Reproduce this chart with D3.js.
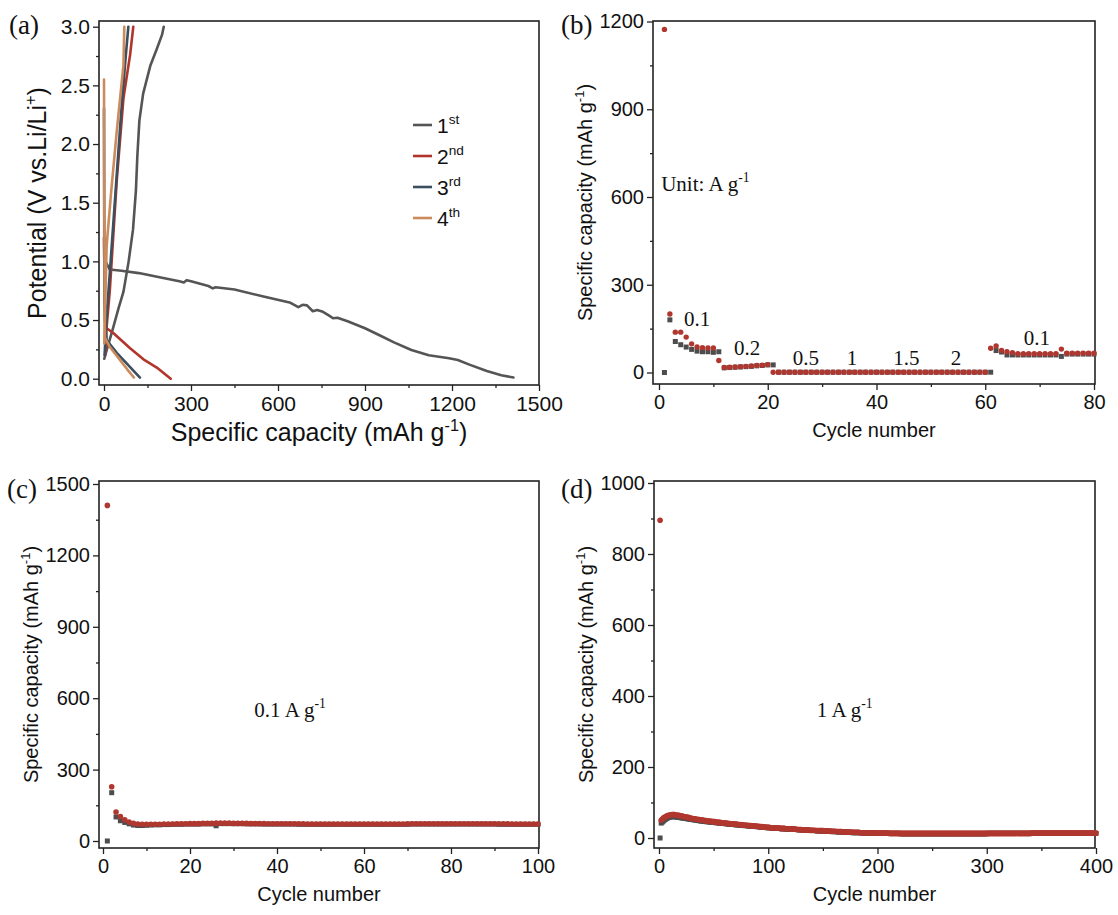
<!DOCTYPE html>
<html>
<head>
<meta charset="utf-8">
<script src="https://cdn.jsdelivr.net/npm/d3@7"></script>
<style>
  body { margin: 0; background: #fff; }
</style>
</head>
<body>
<script>
// ---- panel (a): galvanostatic curves, [capacity (mAh/g), potential (V)]
const cycle1Discharge = [[5,1.0],[20,0.93],[60,0.92],[120,0.9],[200,0.86],[260,0.83],[275,0.82],[285,0.84],[300,0.83],[360,0.79],[375,0.77],[385,0.78],[450,0.76],[550,0.7],[640,0.65],[670,0.61],[685,0.63],[700,0.625],[720,0.575],[735,0.585],[755,0.57],[775,0.54],[790,0.515],[805,0.52],[840,0.49],[900,0.43],[950,0.37],[1000,0.31],[1060,0.245],[1120,0.2],[1190,0.175],[1220,0.16],[1260,0.12],[1320,0.065],[1370,0.03],[1412,0.01]];
const cycle1Charge = [[1,0.17],[10,0.25],[30,0.42],[50,0.6],[67,0.74],[85,1.0],[100,1.27],[110,1.6],[115,1.9],[122,2.2],[135,2.43],[160,2.67],[182,2.81],[200,2.93],[206,3.0]];
const cycle2Discharge = [[0,1.2],[3,0.6],[9,0.43],[32,0.39],[90,0.26],[136,0.165],[182,0.095],[230,0.0]];
const cycle2Charge = [[4,0.2],[9,0.44],[20,0.75],[44,1.69],[67,2.39],[90,2.76],[101,3.0]];
const cycle3Discharge = [[0,2.3],[1,1.0],[3,0.5],[9,0.33],[44,0.22],[78,0.13],[124,0.01]];
const cycle3Charge = [[2,0.2],[8,0.5],[20,0.9],[40,1.6],[60,2.3],[75,2.75],[84,3.0]];
const cycle4Discharge = [[0,2.55],[1,1.5],[2,0.8],[3,0.35],[20,0.27],[55,0.16],[80,0.08],[103,0.01]];
const cycle4Charge = [[1,0.3],[9,1.13],[25,1.6],[44,2.11],[60,2.5],[67,2.67],[70,3.0]];
const legendNumbers = ["1", "2", "3", "4"];
const legendSuffixes = ["st", "nd", "rd", "th"];

// ---- panel (b): rate capability, cycles 1..80
const rateCycles = d3.range(1, 81);
const rateCharge = [0,180,106,95,87,79,73,71,71,69, 71,16,17,18,19,20,21,23,24,26,
  26,1,1,1,1,1,1,1,1,1, 1,1,1,1,1,1,1,1,1,1, 1,1,1,1,1,1,1,1,1,1, 1,1,1,1,1,1,1,1,1,1,
  1,75,70,60,60,60,60,60,60,60, 60,60,60,55,63,63,63,63,63,63];
const rateDischarge = [1173,200,138,138,121,98,87,85,84,84, 41,17,18,19,20,21,22,24,25,27,
  1,1,1,1,1,1,1,1,1,1, 1,1,1,1,1,1,1,1,1,1, 1,1,1,1,1,1,1,1,1,1, 1,1,1,1,1,1,1,1,1,1,
  83,91,75,71,68,64,64,64,64,64, 64,64,64,80,66,66,66,66,66,66];
const rateLabels = ["0.1", "0.2", "0.5", "1", "1.5", "2", "0.1"];
const rateLabelCycles = [7, 16.2, 27, 35.5, 45.5, 54.6, 69.5];
const rateLabelValues = [160, 60, 25, 25, 25, 25, 95];

// ---- panel (c): cycling at 0.1 A/g, cycles 1..100
const cycC = d3.range(1, 101);
const chargeC = [0,203,101,85,78,72,67,65,65,66, 67,68,68,69,69,70,70,70,71,71,
  71,71,72,72,72,64,73,73,73,73, 73,73,72,72,72,72,71,71,71,71, 71,71,71,71,70,70,70,70,70,70,
  70,70,70,70,70,70,70,70,70,70, 70,70,70,70,70,70,70,70,70,70, 71,71,71,71,71,71,71,71,71,71,
  71,71,71,71,71,71,71,71,71,71, 70,70,70,70,70,70,70,70,70,70];
const dischargeC = [1410,228,122,103,89,80,74,71,70,70, 70,70,70,71,71,71,72,72,72,73,
  73,73,74,74,74,75,75,75,75,74, 74,74,74,73,73,73,73,72,72,72, 72,72,72,72,72,72,71,71,71,71,
  71,71,71,71,71,71,71,71,71,71, 71,71,71,71,71,71,71,71,71,72, 72,72,72,72,72,72,72,72,72,72,
  72,72,72,72,72,72,72,72,72,72, 72,72,72,71,71,71,71,71,71,71];

// ---- panel (d): cycling at 1 A/g, cycles 1..400
const cycD = d3.range(1, 401);
const chargeD = [0,42,45,48,51,53,55,57,58,59,60,60,60,60,60,59,59,58,58,57,
  57,56,56,55,55,54,54,53,53,52,52,51,51,50,50,49,49,48,48,48,
  47,47,46,46,46,45,45,45,44,44,44,43,43,43,42,42,42,41,41,41,
  40,40,40,39,39,39,38,38,38,37,37,37,37,36,36,36,35,35,35,35,
  34,34,34,34,33,33,33,33,32,32,32,31,31,31,31,30,30,30,29,29,
  29,29,28,28,28,28,27,27,27,27,27,26,26,26,26,26,25,25,25,25,
  25,25,24,24,24,24,24,23,23,23,23,23,22,22,22,22,22,21,21,21,
  21,21,21,21,20,20,20,20,20,20,20,19,19,19,19,19,19,18,18,18,
  18,18,18,17,17,17,17,17,17,16,16,16,16,16,16,16,15,15,15,15,
  15,15,15,15,15,15,14,14,14,14,14,14,14,14,14,14,14,13,13,13,
  13,13,13,13,13,13,13,13,13,13,13,13,13,13,13,13,13,13,13,13,
  12,12,12,12,12,12,12,12,12,12,12,12,12,12,12,12,12,12,12,12,
  12,12,12,12,12,12,12,12,12,12,12,12,12,12,12,12,12,12,12,12,
  12,12,12,12,12,12,12,12,12,12,12,12,12,12,12,12,12,12,12,12,
  12,12,12,12,12,12,12,12,12,12,12,12,12,12,12,12,12,12,12,12,
  13,13,13,13,13,13,13,13,13,13,13,13,13,13,13,13,13,13,13,13,
  13,13,13,13,13,13,13,13,13,13,13,13,13,13,13,13,13,13,13,13,
  13,13,13,13,13,13,13,13,13,13,13,13,13,13,13,13,13,13,13,13,
  13,13,13,13,13,13,13,13,13,13,13,13,13,13,13,13,13,13,13,13,
  13,13,13,13,13,13,13,13,13,13,13,13,13,13,13,13,13,13,13,13];
const dischargeD = [895,50,53,56,58,60,62,63,64,65,65,66,66,66,65,65,64,64,63,62,
  62,61,60,60,59,58,58,57,56,55,55,54,54,53,53,52,52,51,51,50,
  50,49,49,48,48,48,47,47,46,46,46,45,45,44,44,44,43,43,42,42,
  42,42,41,41,41,40,40,40,39,39,39,38,38,38,37,37,37,36,36,36,
  36,35,35,35,34,34,34,34,33,33,33,32,32,32,31,31,31,30,30,30,
  30,29,29,29,29,28,28,28,28,28,27,27,27,27,27,26,26,26,26,26,
  25,25,25,25,25,24,24,24,24,24,23,23,23,23,23,23,22,22,22,22,
  22,22,21,21,21,21,21,21,21,21,20,20,20,20,20,19,19,19,19,19,
  19,18,18,18,18,18,18,17,17,17,17,17,17,17,16,16,16,16,16,16,
  16,16,16,15,15,15,15,15,15,15,15,15,15,15,15,14,14,14,14,14,
  14,14,14,14,14,14,14,14,14,14,13,13,13,13,13,13,13,13,13,13,
  13,13,13,13,13,13,13,13,13,13,13,13,13,13,13,13,13,13,13,13,
  13,13,13,13,13,13,13,13,13,13,13,13,13,13,13,13,13,13,13,13,
  13,13,13,13,13,13,13,13,13,13,13,13,13,13,13,13,13,13,13,13,
  13,13,13,13,13,13,13,13,13,13,13,13,13,13,13,13,13,13,13,13,
  13,13,13,13,13,13,13,13,13,13,13,13,13,13,13,13,13,13,13,13,
  13,13,13,13,13,13,13,13,13,13,13,13,13,13,13,13,13,13,13,13,
  14,14,14,14,14,14,14,14,14,14,14,14,14,14,14,14,14,14,14,14,
  14,14,14,14,14,14,14,14,14,14,14,14,14,14,14,14,14,14,14,14,
  14,14,14,14,14,14,14,14,14,14,14,14,14,14,14,14,14,14,14,14];

// ---- styles
const SANS = "'Liberation Sans', Arial, sans-serif";
const SERIF = "'Liberation Serif', 'Times New Roman', serif";
const curveColors = ["#555555", "#b2352c", "#3b4f5f", "#cc8b5c"];
const grayMark = "#4d4d4d";
const redMark = "#b0372f";

const svg = d3.select("body").append("svg")
  .attr("width", 1118)
  .attr("height", 915)
  .style("background", "#fff");

// add text with optional superscript segments: parts = [[text, isSup], ...]
function richText(sel, parts, size) {
  let raised = false;
  parts.forEach(([t, sup]) => {
    const ts = sel.append("tspan").text(t);
    if (sup && !raised) { ts.attr("font-size", size * 0.65).attr("dy", -size * 0.42); raised = true; }
    else if (sup) { ts.attr("font-size", size * 0.65); }
    else if (raised) { ts.attr("font-size", size).attr("dy", size * 0.42); raised = false; }
  });
  return sel;
}

function drawAxes(box, x, y, xMajor, xMinor, yMajor, yMinor, yFmt, fs) {
  const g = svg.append("g");
  const bottomMinor = g.append("g").attr("transform", `translate(0,${box.b})`)
    .call(d3.axisBottom(x).tickValues(xMinor).tickSize(3).tickFormat(""));
  const bottom = g.append("g").attr("transform", `translate(0,${box.b})`)
    .call(d3.axisBottom(x).tickValues(xMajor).tickSize(6).tickPadding(5).tickFormat(d3.format("d")));
  const leftMinor = g.append("g").attr("transform", `translate(${box.l},0)`)
    .call(d3.axisLeft(y).tickValues(yMinor).tickSize(3).tickFormat(""));
  const left = g.append("g").attr("transform", `translate(${box.l},0)`)
    .call(d3.axisLeft(y).tickValues(yMajor).tickSize(6).tickPadding(3).tickFormat(yFmt));
  [bottomMinor, bottom, leftMinor, left].forEach(a => {
    a.select(".domain").remove();
    a.selectAll("line").attr("stroke", "#222").attr("stroke-width", 1.3);
    a.selectAll("text").attr("font-family", SANS).attr("font-size", fs).attr("fill", "#111");
  });
  g.append("rect")
    .attr("x", box.l).attr("y", box.t)
    .attr("width", box.r - box.l).attr("height", box.b - box.t)
    .attr("fill", "none").attr("stroke", "#222").attr("stroke-width", 1.6);
}

function xTitle(box, label, fs, off) {
  const t = svg.append("text")
    .attr("x", (box.l + box.r) / 2).attr("y", box.b + off)
    .attr("text-anchor", "middle")
    .attr("font-family", SANS).attr("font-size", fs).attr("fill", "#111");
  richText(t, label, fs);
}

function yTitle(box, xb, label, fs) {
  const t = svg.append("text")
    .attr("transform", `translate(${xb},${(box.t + box.b) / 2}) rotate(-90)`)
    .attr("text-anchor", "middle")
    .attr("font-family", SANS).attr("font-size", fs).attr("fill", "#111");
  richText(t, label, fs);
}

function panelLetter(x, y, s) {
  svg.append("text").attr("x", x).attr("y", y)
    .attr("font-family", SERIF).attr("font-size", 27).attr("fill", "#111").text(s);
}

function serifNote(x, y, parts, anchor) {
  const t = svg.append("text").attr("x", x).attr("y", y)
    .attr("text-anchor", anchor || "middle")
    .attr("font-family", SERIF).attr("font-size", 21).attr("fill", "#111");
  richText(t, parts, 21);
}

function drawScatter(x, y, cycles, charge, discharge, sq, r) {
  const g = svg.append("g");
  g.selectAll("rect.c").data(cycles).enter().append("rect")
    .attr("class", "c")
    .attr("x", d => x(d) - sq / 2)
    .attr("y", (d, i) => y(charge[i]) - sq / 2)
    .attr("width", sq).attr("height", sq)
    .attr("fill", grayMark);
  g.selectAll("circle.d").data(cycles).enter().append("circle")
    .attr("class", "d")
    .attr("cx", d => x(d))
    .attr("cy", (d, i) => y(discharge[i]))
    .attr("r", r)
    .attr("fill", redMark);
}

const capTitle = [["Specific capacity (mAh g", false], ["-1", true], [")", false]];

// ================= (a)
const boxA = { l: 99, r: 539, t: 21, b: 385 };
const xA = d3.scaleLinear().domain([0, 1500]).range([104, 539]);
const yA = d3.scaleLinear().domain([0, 3]).range([378.7, 26.7]);
drawAxes(boxA, xA, yA, d3.range(0, 1501, 300), d3.range(150, 1500, 300),
  d3.range(0, 3.01, 0.5), d3.range(0.25, 3, 0.5), d3.format(".1f"), 21);
const lineA = d3.line().x(d => xA(d[0])).y(d => yA(d[1]));
const curves = [
  [cycle1Discharge, cycle1Charge],
  [cycle2Discharge, cycle2Charge],
  [cycle3Discharge, cycle3Charge],
  [cycle4Discharge, cycle4Charge]
];
curves.forEach((pair, i) => {
  pair.forEach(c => {
    svg.append("path").datum(c)
      .attr("d", lineA)
      .attr("fill", "none")
      .attr("stroke", curveColors[i])
      .attr("stroke-width", 2.6)
      .attr("stroke-linejoin", "round")
      .attr("stroke-linecap", "round");
  });
});
// legend
const legY = d3.scalePoint().domain(legendNumbers).range([125, 218]);
legendNumbers.forEach((n, i) => {
  svg.append("line")
    .attr("x1", 413).attr("x2", 432)
    .attr("y1", legY(n)).attr("y2", legY(n))
    .attr("stroke", curveColors[i]).attr("stroke-width", 2.6);
  const t = svg.append("text").attr("x", 437).attr("y", legY(n) + 8)
    .attr("font-family", SANS).attr("font-size", 21).attr("fill", "#111");
  richText(t, [[n, false], [legendSuffixes[i], true]], 21);
});
xTitle(boxA, capTitle, 25, 56);
yTitle(boxA, 46, [["Potential (V vs.Li/Li", false], ["+", true], [")", false]], 25);
panelLetter(9, 34, "(a)");

// ================= (b)
const boxB = { l: 653, r: 1095, t: 21, b: 384 };
const xB = d3.scaleLinear().domain([0, 80]).range([659, 1094]);
const yB = d3.scaleLinear().domain([0, 1200]).range([372.5, 21.5]);
drawAxes(boxB, xB, yB, d3.range(0, 81, 20), d3.range(10, 80, 20),
  d3.range(0, 1201, 300), d3.range(150, 1200, 300), d3.format("d"), 20);
drawScatter(xB, yB, rateCycles, rateCharge, rateDischarge, 5, 2.7);
rateLabels.forEach((s, i) => {
  serifNote(xB(rateLabelCycles[i]), yB(rateLabelValues[i]), [[s, false]]);
});
serifNote(xB(0.4), yB(620), [["Unit: A g", false], ["-1", true]], "start");
xTitle(boxB, [["Cycle number", false]], 20, 53);
yTitle(boxB, 592, capTitle, 20);
panelLetter(561, 34, "(b)");

// ================= (c)
const boxC = { l: 99, r: 539, t: 481, b: 848 };
const xC = d3.scaleLinear().domain([0, 100]).range([103, 538]);
const yC = d3.scaleLinear().domain([0, 1500]).range([841, 484]);
drawAxes(boxC, xC, yC, d3.range(0, 101, 20), d3.range(10, 100, 20),
  d3.range(0, 1501, 300), d3.range(150, 1500, 300), d3.format("d"), 20);
drawScatter(xC, yC, cycC, chargeC, dischargeC, 5, 2.8);
serifNote(xC(43), yC(520), [["0.1 A g", false], ["-1", true]]);
xTitle(boxC, [["Cycle number", false]], 20, 53);
yTitle(boxC, 38, capTitle, 20);
panelLetter(7, 498, "(c)");

// ================= (d)
const boxD = { l: 654, r: 1095, t: 481, b: 848 };
const xD = d3.scaleLinear().domain([0, 400]).range([659, 1096]);
const yD = d3.scaleLinear().domain([0, 1000]).range([838, 483]);
drawAxes(boxD, xD, yD, d3.range(0, 401, 100), d3.range(50, 400, 100),
  d3.range(0, 1001, 200), d3.range(100, 1000, 200), d3.format("d"), 20);
drawScatter(xD, yD, cycD, chargeD, dischargeD, 5, 2.8);
serifNote(xD(170), yD(340), [["1 A g", false], ["-1", true]]);
xTitle(boxD, [["Cycle number", false]], 20, 53);
yTitle(boxD, 593, capTitle, 20);
panelLetter(561, 498, "(d)");
</script>
</body>
</html>
